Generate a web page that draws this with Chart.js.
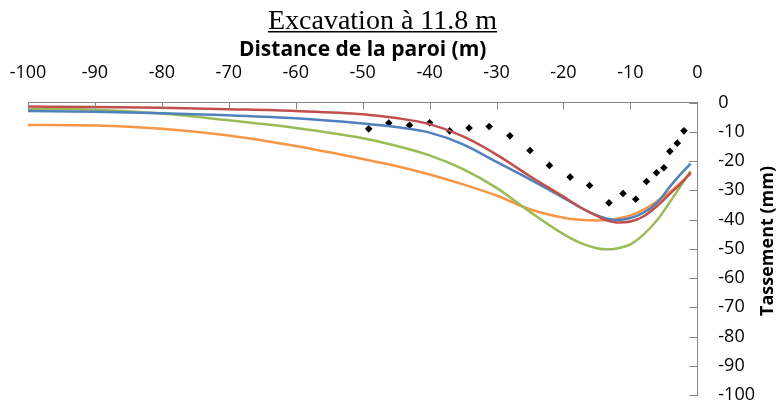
<!DOCTYPE html>
<html>
<head>
<meta charset="utf-8">
<script src="https://cdn.jsdelivr.net/npm/chart.js@4"></script>
<style>
  html, body { margin: 0; padding: 0; background: #fff; }
  #wrap { width: 776px; height: 410px; }
</style>
</head>
<body>
<div id="wrap"><canvas id="chart" width="776" height="410"></canvas></div>
<script>
// distance from the wall (m) for the computed curves
const distance = [-100, -90, -80, -70, -60, -50, -45, -40, -35, -30, -25, -20, -17.5, -15, -13.5, -12, -10, -8, -6, -4, -2.5, -1];
const redSeries = [-1.4, -1.5, -1.8, -2.3, -2.9, -4.0, -5.3, -7.4, -11.6, -17.8, -25.2, -32.2, -35.8, -38.8, -40.3, -41.0, -40.7, -38.9, -35.4, -31.0, -27.8, -24.0];
const blueSeries = [-2.9, -3.2, -3.7, -4.4, -5.4, -7.2, -8.4, -10.3, -14.3, -20.3, -26.3, -32.6, -35.9, -38.6, -39.7, -40.2, -39.5, -37.6, -34.2, -28.5, -24.5, -20.9];
const greenSeries = [-2.2, -2.5, -3.8, -6.1, -8.7, -12.2, -14.8, -18.1, -22.8, -29.2, -37.4, -45.0, -48.0, -49.8, -50.2, -49.9, -48.5, -45.1, -40.2, -33.7, -28.6, -23.5];
const orangeSeries = [-7.7, -7.9, -9.0, -11.3, -14.9, -19.3, -21.7, -24.6, -28.0, -31.8, -36.5, -39.4, -40.1, -40.3, -40.2, -39.7, -38.6, -36.6, -33.7, -30.4, -27.4, -24.4];

// measured settlements
const measuredX = [-49.1, -46.1, -43.0, -40.0, -37.0, -34.1, -31.1, -28.0, -25.0, -22.1, -19.0, -16.1, -13.2, -11.1, -9.2, -7.6, -6.1, -5.0, -4.1, -3.0, -2.0];
const measuredY = [-9.0, -7.0, -7.8, -6.9, -9.7, -8.7, -8.2, -11.4, -16.4, -21.5, -25.5, -28.4, -34.3, -31.1, -33.1, -27.0, -24.0, -22.3, -16.7, -13.9, -9.7];

const xTicks = [-100, -90, -80, -70, -60, -50, -40, -30, -20, -10, 0];
const yTicks = [0, -10, -20, -30, -40, -50, -60, -70, -80, -90, -100];

const title = "Excavation à 11.8 m";
const xTitle = "Distance de la paroi (m)";
const yTitle = "Tassement (mm)";

const axisGray = "#868686";

function pairs(xs, ys) {
  return xs.map((x, i) => ({ x: x, y: ys[i] }));
}

function curve(data, color) {
  return {
    type: "line",
    data: pairs(distance, data),
    borderColor: color,
    backgroundColor: color,
    borderWidth: 2.5,
    pointRadius: 0,
    cubicInterpolationMode: "monotone",
    fill: false,
  };
}

// title, inner tick marks and the right-hand axis title
const decorations = {
  id: "decorations",
  afterDraw(chart) {
    const c = chart.ctx;
    const area = chart.chartArea;
    const xs = chart.scales.x;
    const ys = chart.scales.y;

    c.save();
    c.strokeStyle = axisGray;
    c.lineWidth = 1;
    c.beginPath();
    xTicks.forEach((v) => {
      const px = Math.round(xs.getPixelForValue(v)) + 0.5;
      c.moveTo(px, area.top);
      c.lineTo(px, area.top + 7);
    });
    yTicks.forEach((v) => {
      const py = Math.round(ys.getPixelForValue(v)) + 0.5;
      c.moveTo(area.right, py);
      c.lineTo(area.right - 8, py);
    });
    c.stroke();

    // main title, underlined
    c.fillStyle = "#000";
    c.font = "28px 'Liberation Serif', serif";
    c.textAlign = "center";
    c.textBaseline = "alphabetic";
    c.fillText(title, 382.5, 28.5);
    const w = c.measureText(title).width;
    c.fillRect(382.5 - w / 2, 31, w, 1.5);

    // y axis title, reading bottom to top
    c.translate(773, 241);
    c.rotate(-Math.PI / 2);
    c.font = "bold 18px 'Open Sans', sans-serif";
    c.textBaseline = "alphabetic";
    c.fillText(yTitle, 0, 0);
    c.restore();
  },
};

const chart = new Chart(document.getElementById("chart"), {
  data: {
    datasets: [
      curve(redSeries, "#C0504D"),
      curve(blueSeries, "#4F81BD"),
      curve(greenSeries, "#9BBB59"),
      curve(orangeSeries, "#F79646"),
      {
        type: "scatter",
        data: pairs(measuredX, measuredY),
        pointStyle: "rectRot",
        pointRadius: 3.8,
        pointBackgroundColor: "#000",
        pointBorderColor: "#000",
        pointBorderWidth: 0,
        showLine: false,
      },
    ],
  },
  options: {
    responsive: false,
    animation: false,
    events: [],
    layout: { padding: { top: 37, left: 28, right: 21, bottom: 15 } },
    plugins: {
      legend: { display: false },
      title: { display: false },
      tooltip: { enabled: false },
    },
    scales: {
      x: {
        type: "linear",
        position: "top",
        min: -100,
        max: 0,
        afterBuildTicks: (scale) => {
          scale.ticks = xTicks.map((v) => ({ value: v }));
        },
        grid: { display: false, drawTicks: true, tickLength: 18.7 },
        border: { display: true, color: axisGray, width: 1 },
        ticks: {
          padding: 0,
          color: "#000",
          maxRotation: 0,
          autoSkip: false,
          font: { family: "'Open Sans', sans-serif", size: 18 },
        },
        title: {
          display: true,
          text: xTitle,
          color: "#000",
          padding: { top: 0, bottom: 0 },
          font: { family: "'Open Sans', sans-serif", size: 21, weight: "bold" },
        },
      },
      y: {
        type: "linear",
        position: "right",
        min: -100,
        max: 0,
        afterBuildTicks: (scale) => {
          scale.ticks = yTicks.map((v) => ({ value: v }));
        },
        grid: { display: false, drawTicks: true, tickLength: 21 },
        border: { display: true, color: axisGray, width: 1 },
        ticks: {
          padding: 0,
          color: "#000",
          autoSkip: false,
          font: { family: "'Open Sans', sans-serif", size: 18 },
        },
        title: { display: false },
      },
    },
  },
  plugins: [decorations],
});
</script>
</body>
</html>
